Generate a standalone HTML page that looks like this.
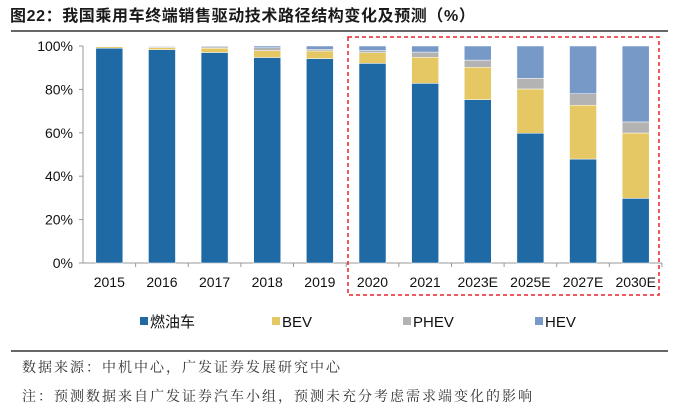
<!DOCTYPE html>
<html><head><meta charset="utf-8"><style>
body{margin:0;width:700px;height:411px;background:#fff;overflow:hidden;font-family:"Liberation Sans","Noto Sans CJK SC",sans-serif}
</style></head><body>
<svg id="chart" width="700" height="411" xmlns="http://www.w3.org/2000/svg" font-family="Liberation Sans, Noto Sans CJK SC, sans-serif">
<text x="10" y="21" font-size="16" font-weight="bold" fill="#1a1a1a" letter-spacing="0.6">图22：我国乘用车终端销售驱动技术路径结构变化及预测（%）</text>
<line x1="11" y1="31" x2="668" y2="31" stroke="#333" stroke-width="1.5"/>
<g id="plot"></g>
<rect x="348" y="37" width="311" height="258" fill="none" stroke="#e8232a" stroke-width="1.5" stroke-dasharray="4,3"/>
<g id="legend"></g>
<line x1="11" y1="351" x2="668" y2="351" stroke="#333" stroke-width="1.5"/>
<text x="22" y="372" font-size="14" letter-spacing="2" fill="#333" font-family="Noto Serif CJK SC, serif">数据来源：中机中心，广发证券发展研究中心</text>
<text x="22" y="401" font-size="14" letter-spacing="2" fill="#333" font-family="Noto Serif CJK SC, serif">注：预测数据来自广发证券汽车小组，预测未充分考虑需求端变化的影响</text>
</svg>
<script>
const categories=["2015","2016","2017","2018","2019","2020","2021","2023E","2025E","2027E","2030E"];
const ice=[99,98.3,97,94.7,94.2,92,82.8,75.3,59.8,47.9,29.8];
const bev=[0.7,1,2,3.2,3.5,4.9,12,14.9,20.4,24.8,30.1];
const phev=[0.2,0.4,0.6,1.3,0.8,1,2.4,3.3,4.9,5.3,5.1];
const hev=[0.1,0.3,0.4,0.8,1.5,2.1,2.8,6.5,14.9,22,35];
const yTicks=[0,20,40,60,80,100];
const seriesNames=["燃油车","BEV","PHEV","HEV"];
const colors=["#1f6aa5","#e5c764","#b3b3b3","#7799c8"];
const NS="http://www.w3.org/2000/svg";
const x0=83,x1=662,y0=263,yTop=46,step=(x1-x0)/categories.length,bw=27;
const y=v=>y0-(v/100)*(y0-yTop);
const xc=i=>x0+step*(i+0.5);
const plot=document.getElementById('plot');
function mk(t,a,p){const e=document.createElementNS(NS,t);for(const k in a)e.setAttribute(k,a[k]);(p||plot).appendChild(e);return e;}
let ax=mk('line',{x1:x0,y1:yTop,x2:x0,y2:y0,stroke:'#999'});


yTicks.forEach(t=>{
 const tk=mk('line',{x1:x0-4,y1:y(t),x2:x0,y2:y(t),stroke:'#999'});
 
 
 const l=mk('text',{x:x0-10,y:y(t)+5,'text-anchor':'end','font-size':14,fill:'#111'});
 l.textContent=t+'%';
 
 
});
let xa=mk('line',{x1:x0-4,y1:y0,x2:x1,y2:y0,stroke:'#999'});


const series=[ice,bev,phev,hev];
categories.forEach((c,i)=>{
 const tk=mk('line',{x1:x0+step*(i+1),y1:y0,x2:x0+step*(i+1),y2:y0+4,stroke:'#999'});
 
 
 let acc=0;
 series.forEach((s,k)=>{
  const r=mk('rect',{x:xc(i)-bw/2,y:y(acc+s[i]),width:bw,height:y(acc)-y(acc+s[i]),fill:colors[k],stroke:'#fff','stroke-width':0.5});
  
  
  acc+=s[i];
 });
 const l=mk('text',{x:xc(i),y:y0+24,'text-anchor':'middle','font-size':14,fill:'#111'});
 l.textContent=c;
 
 
});
const lg=document.getElementById('legend');
const lx=[140,272,403,535];
seriesNames.forEach((n,k)=>{
 const r=mk('rect',{x:lx[k],y:317,width:8,height:8,fill:colors[k]},lg);
 
 
 const t=mk('text',{x:lx[k]+10,y:327,'font-size':15,fill:'#111'},lg);
 t.textContent=n;
 
 
});
</script>
</body></html>
